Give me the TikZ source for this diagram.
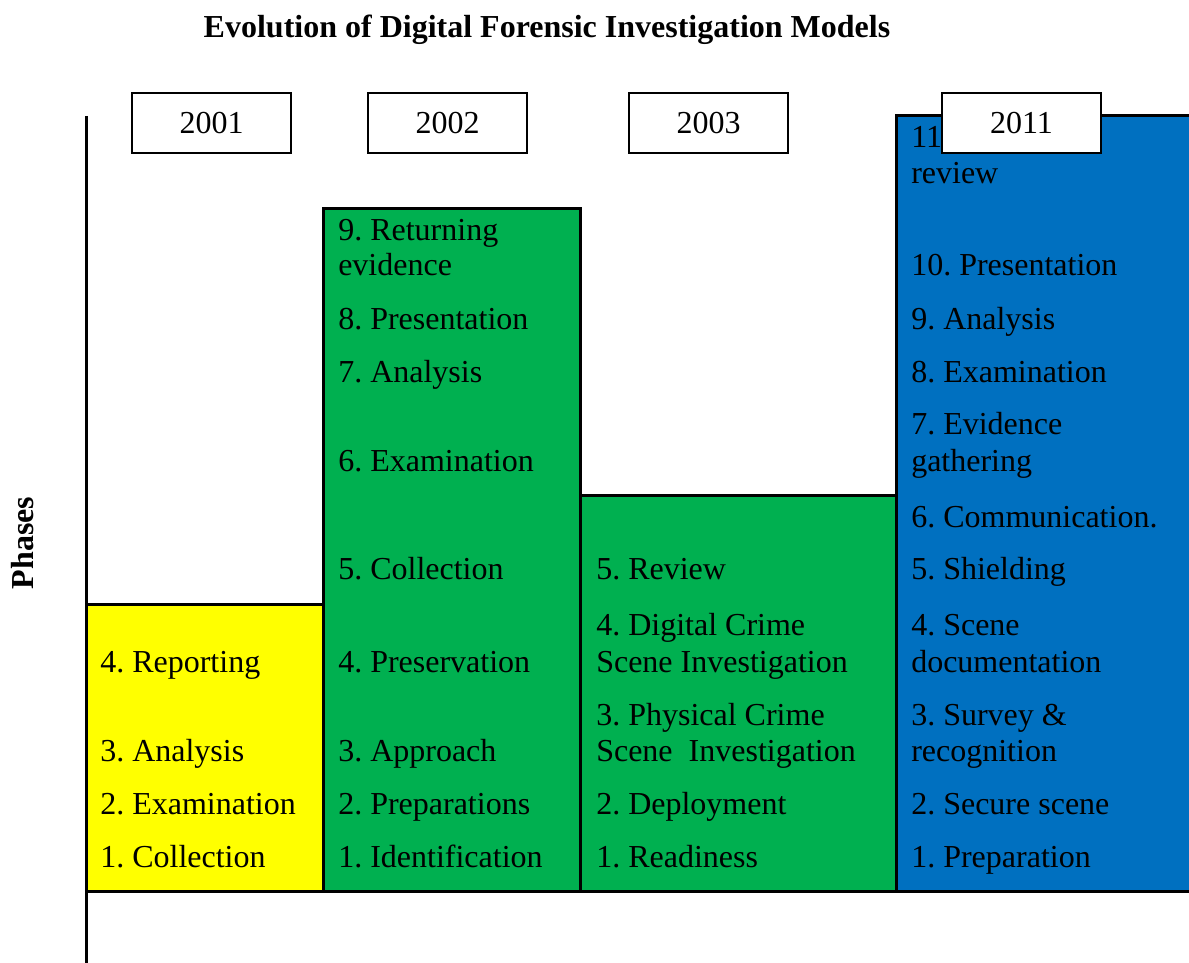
\documentclass[tikz,border=0pt]{standalone}
\usepackage{fontspec}
\setmainfont{Liberation Serif}
\definecolor{cyel}{HTML}{FFFF00}
\definecolor{cgreen}{HTML}{00B050}
\definecolor{cblue}{HTML}{0070C0}
\frenchspacing
\begin{document}
\begin{tikzpicture}[x=0.75pt,y=-0.75pt,
  lbl/.style={anchor=base west,inner sep=0pt,font=\fontsize{24}{27}\selectfont},
  col/.style={draw=black,line width=2.25pt},
  yearbox/.style={draw=black,fill=white,line width=1pt,minimum width=119.25pt,minimum height=45pt,inner sep=0pt,font=\fontsize{24}{27}\selectfont},
  axis/.style={line width=2.25pt}]
\useasboundingbox (0,0) rectangle (1189,963);
% columns
\path[col,fill=cyel] (86,604) rectangle (323,891);
\path[col,fill=cgreen] (323,209) rectangle (580,891);
\path[col,fill=cgreen] (580,495) rectangle (896,891);
\path[col,fill=cblue] (896,116) rectangle (1192,891);
% axes
\coordinate (ytop) at (86,116);
\coordinate (ybot) at (86,963);
\coordinate (xl) at (86,891);
\coordinate (xr) at (1189,891);
\draw[axis] (ytop) -- (ybot);
\draw[axis] (xl) -- (xr);
% title
\node[font=\fontsize{24}{27}\selectfont\bfseries,anchor=base] (title) at (547,38) {Evolution of Digital Forensic Investigation Models};
\node[font=\fontsize{24}{27}\selectfont\bfseries,rotate=90,anchor=base] (phases) at (33,543) {Phases};
% 2001
\node[lbl] (a4) at (100,672) {4. Reporting};
\node[lbl] (a3) at (100,761) {3. Analysis};
\node[lbl] (a2) at (100,814) {2. Examination};
\node[lbl] (a1) at (100,867) {1. Collection};
% 2002
\node[lbl] (b9) at (338,240) {9. Returning};
\node[lbl] (b9b) at (338,276) {evidence};
\node[lbl] (b8) at (338,329) {8. Presentation};
\node[lbl] (b7) at (338,382) {7. Analysis};
\node[lbl] (b6) at (338,471) {6. Examination};
\node[lbl] (b5) at (338,579) {5. Collection};
\node[lbl] (b4) at (338,672) {4. Preservation};
\node[lbl] (b3) at (338,761) {3. Approach};
\node[lbl] (b2) at (338,814) {2. Preparations};
\node[lbl] (b1) at (338,867) {1. Identification};
% 2003
\node[lbl] (c5) at (596,579) {5. Review};
\node[lbl] (c4) at (596,635) {4. Digital Crime};
\node[lbl] (c4b) at (596,672) {Scene Investigation};
\node[lbl] (c3) at (596,725) {3. Physical Crime};
\node[lbl] (c3b) at (596,761) {Scene\ \ Investigation};
\node[lbl] (c2) at (596,814) {2. Deployment};
\node[lbl] (c1) at (596,867) {1. Readiness};
% 2011
\node[lbl] (d11) at (911,148) {11};
\node[lbl] (d11b) at (911,184) {review};
\node[lbl] (d10) at (911,276) {10. Presentation};
\node[lbl] (d9) at (911,329) {9. Analysis};
\node[lbl] (d8) at (911,382) {8. Examination};
\node[lbl] (d7) at (911,434) {7. Evidence};
\node[lbl] (d7b) at (911,471) {gathering};
\node[lbl] (d6) at (911,527) {6. Communication.};
\node[lbl] (d5) at (911,579) {5. Shielding};
\node[lbl] (d4) at (911,635) {4. Scene};
\node[lbl] (d4b) at (911,672) {documentation};
\node[lbl] (d3) at (911,725) {3. Survey \&};
\node[lbl] (d3b) at (911,761) {recognition};
\node[lbl] (d2) at (911,814) {2. Secure scene};
\node[lbl] (d1) at (911,867) {1. Preparation};
% year boxes
\node[yearbox] (y2001) at (211.5,123) {2001};
\node[yearbox] (y2002) at (447.5,123) {2002};
\node[yearbox] (y2003) at (708.5,123) {2003};
\node[yearbox] (y2011) at (1021.5,123) {2011};
\end{tikzpicture}
\end{document}
